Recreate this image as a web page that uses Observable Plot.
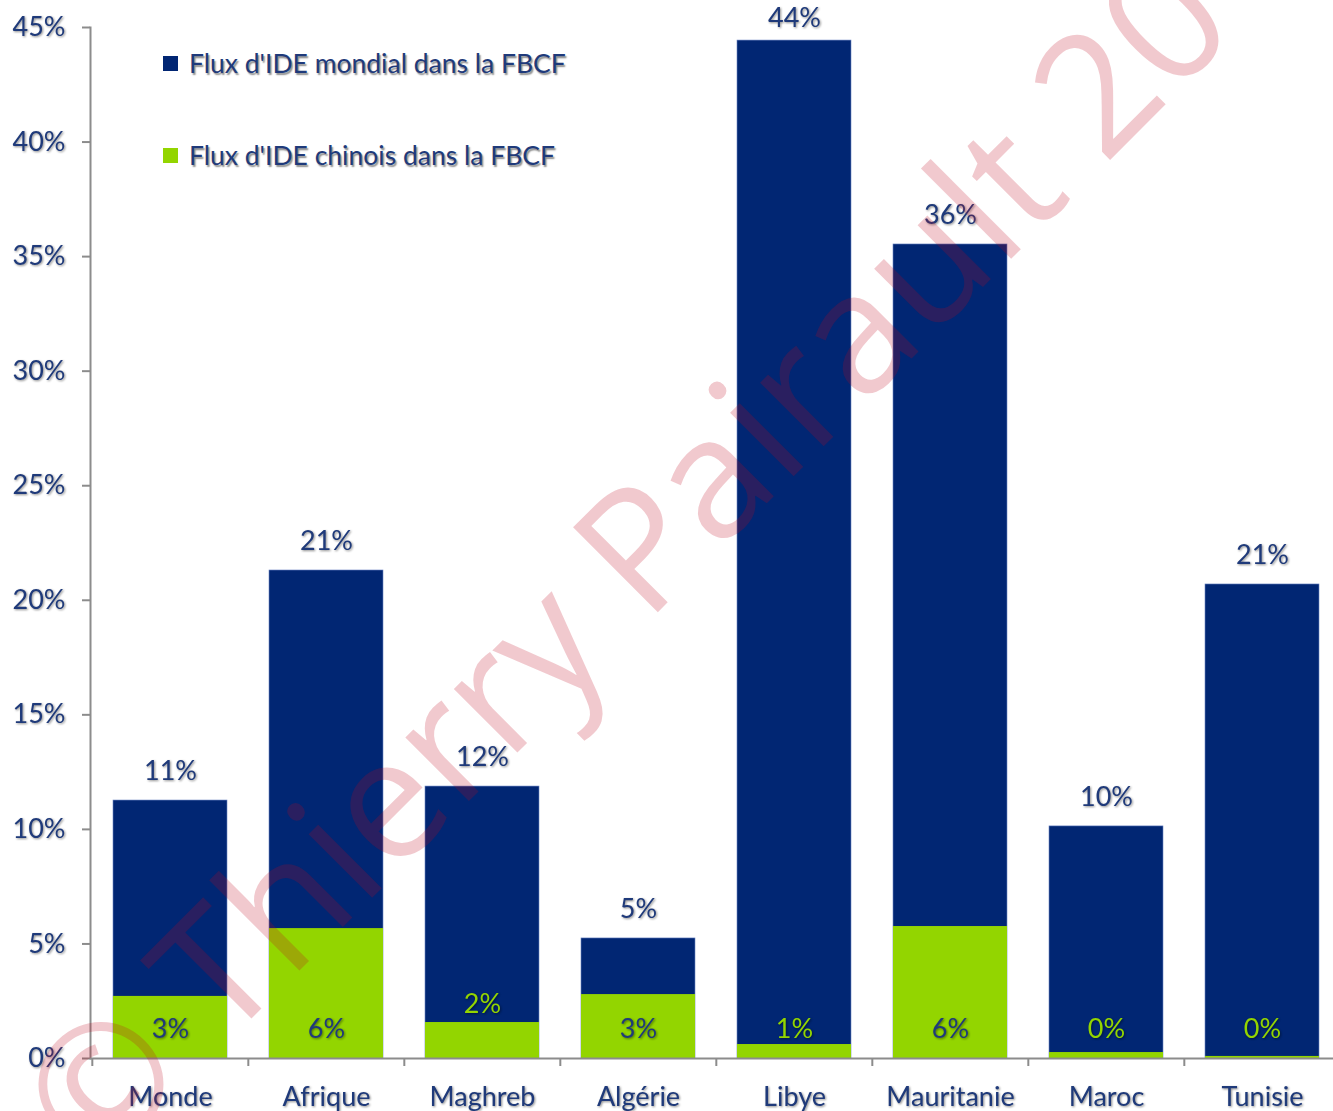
<!DOCTYPE html>
<html>
<head>
<meta charset="utf-8">
<script src="https://cdn.jsdelivr.net/npm/d3@7"></script>
<script src="https://cdn.jsdelivr.net/npm/@observablehq/plot@0.6"></script>
<style>
  html, body { margin: 0; padding: 0; background: #fff; overflow: hidden; }
  #wrap { position: relative; width: 1333px; height: 1111px; overflow: hidden; }
  #chart svg { overflow: visible; }
  #chart svg text { filter: drop-shadow(1.5px 1.5px 1.2px rgba(0,0,0,0.45)); }
  #legend { position: absolute; left: 163px; top: 46px; font-family: Lato, sans-serif; font-size: 26.5px; color: #1f3a7a; text-shadow: 1.5px 1.5px 1.5px rgba(0,0,0,0.45); }
  #legend .row { display: flex; align-items: center; height: 34px; }
  #legend .row + .row { margin-top: 58px; }
  #legend .sw { width: 15px; height: 15px; margin-right: 11px; }
  #wm { position: absolute; left: 0; top: 0; pointer-events: none; }
</style>
</head>
<body>
<div id="wrap">
  <div id="chart"></div>
  <div id="legend"></div>
  <svg id="wm" width="1333" height="1111"></svg>
</div>
<script>
const categories = ["Monde", "Afrique", "Maghreb", "Algérie", "Libye", "Mauritanie", "Maroc", "Tunisie"];
const mondial = [11.26, 21.3, 11.87, 5.24, 44.43, 35.53, 10.13, 20.69];
const chinois = [2.71, 5.67, 1.57, 2.79, 0.61, 5.76, 0.26, 0.09];
const yTicks = [0, 5, 10, 15, 20, 25, 30, 35, 40, 45];
const seriesNames = ["Flux d'IDE mondial dans la FBCF", "Flux d'IDE chinois dans la FBCF"];
const watermark = "© Thierry Pairault 2013";
const raisedLabels = ["Maghreb"];

const navy = "#012673";
const green = "#93d500";
const textNavy = "#1f3a7a";
const axisGray = "#8c8c8c";
const font = "Lato, sans-serif";
const fs = 27;

const data = categories.map((c, i) => ({cat: c, mondial: mondial[i], chinois: chinois[i]}));

const W = 1333, H = 1111, ML = 90;
const xRange = [90, 1341];
const step = (xRange[1] - xRange[0]) / categories.length;
const inset = 21;
const labelLift = 1.27;   // top-label gap (in % units)
const labelCeil = 45.4;   // labels kept inside the top of the plot

const chart = Plot.plot({
  width: W, height: H,
  marginTop: 27, marginBottom: 53, marginLeft: ML, marginRight: 0,
  style: {fontFamily: font, fontSize: fs + "px", background: "#fff", overflow: "visible"},
  x: {domain: categories, padding: 0, range: xRange},
  y: {domain: [0, 45]},
  marks: [
    Plot.barY(data, {x: "cat", y: "mondial", fill: navy, stroke: "#6d86c4", strokeWidth: 0.6, insetLeft: inset, insetRight: inset}),
    Plot.barY(data, {x: "cat", y: "chinois", fill: green, insetLeft: inset, insetRight: inset}),
    Plot.ruleY([0], {stroke: axisGray, strokeWidth: 2}),
    Plot.frame({anchor: "left", stroke: axisGray, strokeWidth: 2}),
    Plot.axisY({ticks: yTicks, tickFormat: d => d + "%", tickSize: 8, tickPadding: 17, stroke: axisGray, strokeWidth: 2, fill: textNavy, fontSize: fs, label: null}),
    Plot.axisX({tickSize: 8, fill: "none", stroke: axisGray, strokeWidth: 2, dx: -step / 2, label: null}),
    Plot.axisX({tickSize: 0, tickPadding: 28, fill: textNavy, fontSize: fs, label: null}),
    Plot.text(data, {x: "cat", y: d => Math.min(d.mondial + labelLift, labelCeil), text: d => Math.round(d.mondial) + "%", fill: textNavy, fontSize: fs}),
    Plot.text(data, {filter: d => !raisedLabels.includes(d.cat), x: "cat", y: 0, text: d => Math.round(d.chinois) + "%", dy: -29, fill: d => d.chinois >= 2.5 ? textNavy : green, fontSize: fs}),
    Plot.text(data, {filter: d => raisedLabels.includes(d.cat), x: "cat", y: 0, text: d => Math.round(d.chinois) + "%", dy: -54, fill: d => d.chinois >= 2.5 ? textNavy : green, fontSize: fs})
  ]
});
document.getElementById("chart").appendChild(chart);

const legend = document.getElementById("legend");
[navy, green].forEach((c, i) => {
  const row = document.createElement("div");
  row.className = "row";
  const sw = document.createElement("div");
  sw.className = "sw";
  sw.style.background = c;
  const t = document.createElement("span");
  t.textContent = seriesNames[i];
  row.appendChild(sw); row.appendChild(t);
  legend.appendChild(row);
});

const wm = d3.select("#wm");
wm.append("text")
  .attr("transform", "translate(94,1176) rotate(-45)")
  .attr("font-family", "'Open Sans', sans-serif")
  .attr("font-size", 168)
  .attr("fill", "rgb(190,10,30)")
  .attr("fill-opacity", 0.22)
  .text(watermark);
</script>
</body>
</html>
